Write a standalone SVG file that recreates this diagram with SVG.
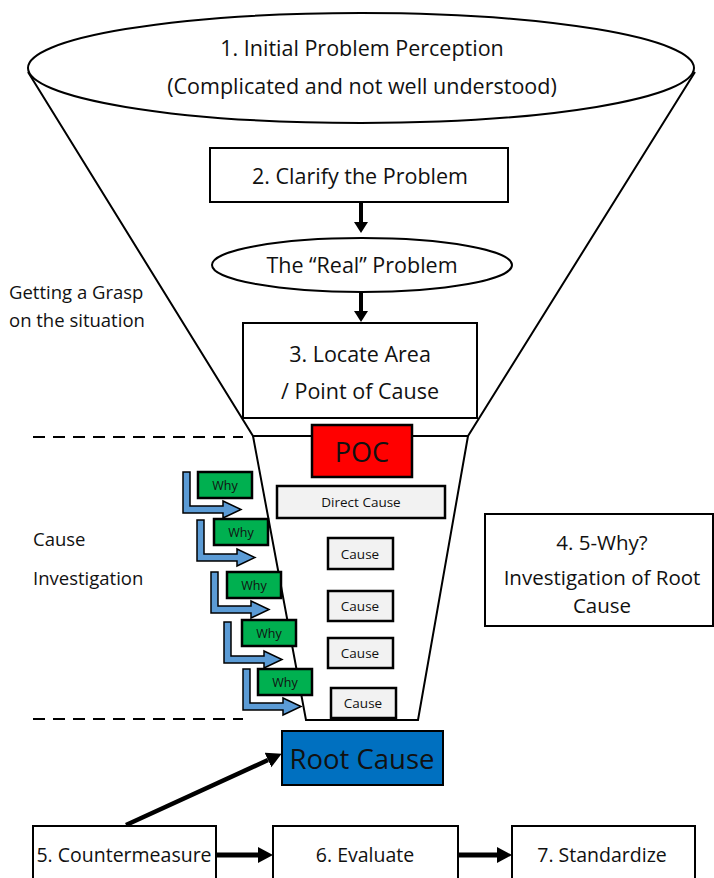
<svg xmlns="http://www.w3.org/2000/svg" width="714" height="878" viewBox="0 0 714 878">
  <style>
    text { font-family: "Open Sans", "Liberation Sans", Arial, sans-serif; fill: #111; text-anchor: middle; }
    .ln { fill: none; stroke: #000; stroke-width: 2; }
    .box { fill: #fff; stroke: #000; stroke-width: 2; }
    .gray { fill: #f2f2f2; stroke: #000; stroke-width: 2.5; }
    .why { fill: #00b050; stroke: #000; stroke-width: 2.5; }
    .bent { fill: #5b9bd5; stroke: #000; stroke-width: 1.5; stroke-linejoin: miter; }
    .dash { fill: none; stroke: #000; stroke-width: 2; stroke-dasharray: 12 8; }
    .conn { fill: none; stroke: #000; }
    .lbl { text-anchor: start; font-size: 18.5px; }
    .t { font-size: 21.5px; }
    .small { font-size: 13.5px; }
    .whyt { font-size: 12.5px; }
  </style>
  <defs>
    <marker id="head" markerUnits="userSpaceOnUse" markerWidth="12" markerHeight="16" refX="0" refY="7" orient="auto">
      <path d="M0,0 L11,7 L0,14 z" fill="#000"/>
    </marker>
    <marker id="headL" markerUnits="userSpaceOnUse" markerWidth="16" markerHeight="18" refX="0" refY="8" orient="auto">
      <path d="M0,0 L15,8 L0,16 z" fill="#000"/>
    </marker>
    <!-- bent blue arrow: vertical bar turning right into a head -->
    <path id="bentArrow" class="bent" d="M0,0 H7 V34 H40 V29 L58,37.5 L40,46 V41 H0 Z"/>
  </defs>

  <!-- funnel outline -->
  <g id="funnel">
    <path class="ln" d="M28,72 L253,436 L468,436 L695,72"/>
    <path class="ln" d="M253,436 L306,720 L418,720 L468,436"/>
  </g>

  <!-- dashed phase separators -->
  <g id="separators">
    <line class="dash" x1="33" y1="437" x2="243" y2="437"/>
    <line class="dash" x1="33" y1="719" x2="243" y2="719"/>
  </g>

  <!-- side labels -->
  <g id="label-grasp">
    <text class="lbl" x="9" y="299">Getting a Grasp</text>
    <text class="lbl" x="9" y="327">on the situation</text>
  </g>
  <g id="label-cause">
    <text class="lbl" x="33" y="546">Cause</text>
    <text class="lbl" x="33" y="585">Investigation</text>
  </g>

  <g id="n1">
    <ellipse cx="361" cy="68" rx="333" ry="55" class="box"/>
    <text class="t" x="362" y="56">1. Initial Problem Perception</text>
    <text class="t" x="362" y="94">(Complicated and not well understood)</text>
  </g>

  <g id="n2">
    <rect x="210" y="148" width="298" height="54" class="box"/>
    <text class="t" x="360" y="184">2. Clarify the Problem</text>
  </g>

  <g id="real">
    <ellipse cx="362" cy="265" rx="150" ry="27" class="box"/>
    <text class="t" x="362" y="273">The “Real” Problem</text>
  </g>

  <g id="n3">
    <rect x="243" y="323" width="234" height="95" class="box"/>
    <text class="t" x="360" y="362">3. Locate Area</text>
    <text class="t" x="360" y="399">/ Point of Cause</text>
  </g>

  <g id="poc">
    <rect x="312" y="425" width="100" height="52" fill="#ff0000" stroke="#000" stroke-width="2.5"/>
    <text x="362" y="462" font-size="27">POC</text>
  </g>

  <g id="direct-cause">
    <rect x="277" y="486" width="168" height="32" class="gray"/>
    <text class="small" x="361" y="507">Direct Cause</text>
  </g>
  <g id="cause1">
    <rect x="328" y="538" width="65" height="31" class="gray"/>
    <text class="small" x="360" y="559">Cause</text>
  </g>
  <g id="cause2">
    <rect x="328" y="591" width="65" height="30" class="gray"/>
    <text class="small" x="360" y="611">Cause</text>
  </g>
  <g id="cause3">
    <rect x="328" y="638" width="65" height="30" class="gray"/>
    <text class="small" x="360" y="658">Cause</text>
  </g>
  <g id="cause4">
    <rect x="331" y="688" width="65" height="30" class="gray"/>
    <text class="small" x="363" y="708">Cause</text>
  </g>

  <!-- five "Why" steps, each with its bent arrow -->
  <g id="why1">
    <use href="#bentArrow" x="183" y="472"/>
    <rect x="198" y="472" width="54" height="26" class="why"/>
    <text class="whyt" x="225" y="490">Why</text>
  </g>
  <g id="why2">
    <use href="#bentArrow" x="197" y="520"/>
    <rect x="214" y="519" width="54" height="26" class="why"/>
    <text class="whyt" x="241" y="537">Why</text>
  </g>
  <g id="why3">
    <use href="#bentArrow" x="211" y="572"/>
    <rect x="227" y="572" width="54" height="26" class="why"/>
    <text class="whyt" x="254" y="590">Why</text>
  </g>
  <g id="why4">
    <use href="#bentArrow" x="224" y="622"/>
    <rect x="242" y="620" width="54" height="26" class="why"/>
    <text class="whyt" x="269" y="638">Why</text>
  </g>
  <g id="why5">
    <use href="#bentArrow" x="243" y="669"/>
    <rect x="258" y="669" width="54" height="26" class="why"/>
    <text class="whyt" x="285" y="687">Why</text>
  </g>

  <g id="n4">
    <rect x="485" y="514" width="228" height="112" class="box"/>
    <text x="602" y="550" font-size="20.5">4. 5-Why?</text>
    <text x="602" y="585" font-size="20.5">Investigation of Root</text>
    <text x="602" y="613" font-size="20.5">Cause</text>
  </g>

  <g id="root-cause">
    <rect x="282" y="731" width="161" height="54" fill="#0070c0" stroke="#000" stroke-width="2"/>
    <text x="362" y="769" font-size="27.5" fill="#0d1b2a">Root Cause</text>
  </g>

  <g id="n5">
    <rect x="33" y="826" width="183" height="60" class="box"/>
    <text x="124" y="862" font-size="19.5">5. Countermeasure</text>
  </g>
  <g id="n6">
    <rect x="273" y="826" width="185" height="60" class="box"/>
    <text x="365" y="862" font-size="19.5">6. Evaluate</text>
  </g>
  <g id="n7">
    <rect x="512" y="826" width="183" height="60" class="box"/>
    <text x="602" y="862" font-size="19.5">7. Standardize</text>
  </g>

  <!-- connectors -->
  <g id="connectors">
    <line class="conn" stroke-width="4" x1="361" y1="202" x2="361" y2="222" marker-end="url(#head)"/>
    <line class="conn" stroke-width="4" x1="361" y1="292" x2="361" y2="311" marker-end="url(#head)"/>
    <line class="conn" stroke-width="4.5" x1="126" y1="825" x2="268" y2="760" marker-end="url(#headL)"/>
    <line class="conn" stroke-width="5" x1="216" y1="855" x2="258" y2="855" marker-end="url(#headL)"/>
    <line class="conn" stroke-width="5" x1="458" y1="855" x2="497" y2="855" marker-end="url(#headL)"/>
  </g>
</svg>
